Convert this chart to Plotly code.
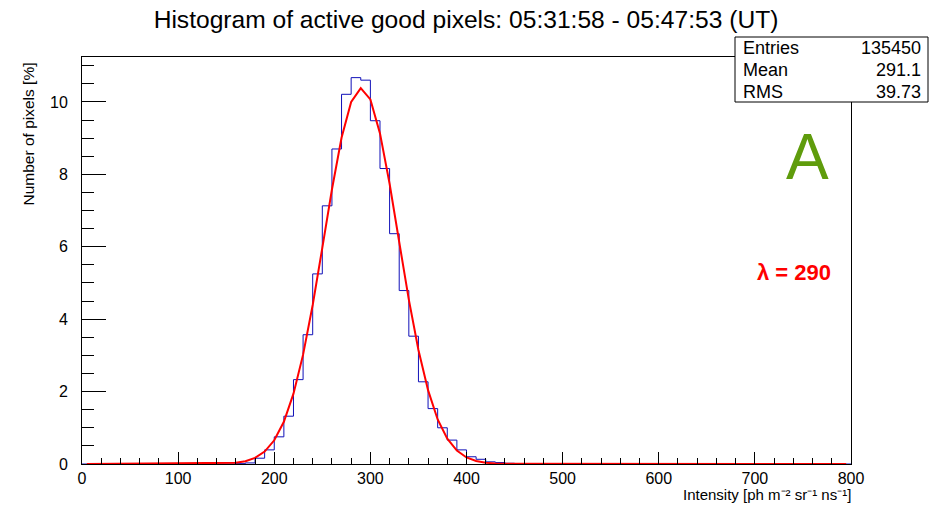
import plotly.graph_objects as go

# ---- data ----
bin_width = 10
bin_left = [160, 170, 180, 190, 200, 210, 220, 230, 240, 250, 260, 270, 280, 290, 300,
            310, 320, 330, 340, 350, 360, 370, 380, 390, 400, 410, 420, 430, 440, 450]
bin_pct = [0.01, 0.03, 0.16, 0.39, 0.75, 1.32, 2.33, 3.57, 5.25, 7.13, 8.70, 10.21, 10.67, 10.60, 9.48,
           8.16, 6.36, 4.79, 3.53, 2.27, 1.53, 1.00, 0.66, 0.39, 0.20, 0.13, 0.06, 0.04, 0.02, 0.01]

fit_x = [5, 150, 160, 170, 180, 190, 200, 210, 220, 230, 240, 250, 260, 270, 280, 290, 300,
         310, 320, 330, 340, 350, 360, 370, 380, 390, 400, 410, 420, 430, 440, 795]
fit_y = [0.0, 0.013, 0.033, 0.077, 0.169, 0.344, 0.655, 1.167, 1.942, 3.02, 4.39, 5.97, 7.58, 9.01, 10.00, 10.38, 10.07,
         9.13, 7.74, 6.13, 4.54, 3.15, 2.04, 1.23, 0.70, 0.37, 0.18, 0.083, 0.036, 0.015, 0.006, 0.0]

x_range = [0, 800]
y_range = [0, 11.24]

stats_labels = ["Entries", "Mean", "RMS"]
stats_values = ["135450", "291.1", "39.73"]

title_text = "Histogram of active good pixels: 05:31:58 - 05:47:53 (UT)"
x_title = "Intensity [ph m⁻² sr⁻¹ ns⁻¹]"
y_title = "Number of pixels [%]"

# ---- build full histogram over axis range ----
lookup = dict(zip(bin_left, bin_pct))
edges = list(range(x_range[0], x_range[1] + bin_width, bin_width))
hx, hy = [], []
for e in edges[:-1]:
    hx.append(e)
    hy.append(lookup.get(e, 0.0))
hx.append(edges[-1])
hy.append(hy[-1])

FONT = "Liberation Sans, Arial, Helvetica, sans-serif"

fig = go.Figure()
fig.add_trace(go.Scatter(x=hx, y=hy, mode="lines", line=dict(shape="hv", color="#1010b8", width=1),
                         hoverinfo="skip", showlegend=False))
fig.add_trace(go.Scatter(x=fit_x, y=fit_y, mode="lines", line=dict(color="#ff0000", width=2),
                         hoverinfo="skip", showlegend=False))

W, H = 933, 505
L, R, T, B = 82, 82, 57, 41
pw, ph = W - L - R, H - T - B

def px(xpix):
    return (xpix - L) / pw

def py(ypix):
    return (H - B - ypix) / ph

fig.update_layout(
    width=W, height=H,
    margin=dict(l=L, r=R, t=T, b=B),
    paper_bgcolor="white", plot_bgcolor="white",
    font=dict(family=FONT, color="black"),
    title=dict(text=title_text, x=px(466), xref="paper", xanchor="center",
               y=1 - 19 / H, yref="container", yanchor="middle",
               font=dict(size=24.6, family=FONT, color="black")),
    xaxis=dict(range=x_range, showgrid=False, zeroline=False,
               showline=True, linecolor="black", linewidth=1, mirror=True,
               ticks="inside", ticklen=12, tickcolor="black", tickwidth=1,
               tick0=0, dtick=100, tickfont=dict(size=16, family=FONT),
               minor=dict(ticks="inside", ticklen=6, dtick=20, tickcolor="black", tickwidth=1, showgrid=False)),
    yaxis=dict(range=y_range, showgrid=False, zeroline=False,
               showline=True, linecolor="black", linewidth=1, mirror=True,
               ticks="inside", ticklen=24, tickcolor="black", tickwidth=1,
               tick0=0, dtick=2, tickfont=dict(size=16, family=FONT), ticklabelstandoff=10,
               minor=dict(ticks="inside", ticklen=12, dtick=0.5, tickcolor="black", tickwidth=1, showgrid=False)),
)

# axis titles
fig.add_annotation(text=y_title, xref="paper", yref="paper", x=px(28), y=py(61),
                   xanchor="center", yanchor="top", textangle=-90, showarrow=False,
                   font=dict(size=15.5, family=FONT, color="black"))
fig.add_annotation(text=x_title, xref="paper", yref="paper", x=px(852), y=py(495),
                   xanchor="right", yanchor="middle", showarrow=False, borderpad=0,
                   font=dict(size=15, family=FONT, color="black"))

# stats box
fig.add_shape(type="rect", xref="paper", yref="paper", x0=px(735), x1=px(928), y0=py(102), y1=py(37),
              line=dict(color="black", width=1), fillcolor="white", layer="above")
row_y = [48, 70, 92]
for lab, val, yy in zip(stats_labels, stats_values, row_y):
    fig.add_annotation(text=lab, xref="paper", yref="paper", x=px(741), y=py(yy),
                       xanchor="left", yanchor="middle", showarrow=False,
                       font=dict(size=18, family=FONT, color="black"))
    fig.add_annotation(text=val, xref="paper", yref="paper", x=px(923), y=py(yy),
                       xanchor="right", yanchor="middle", showarrow=False,
                       font=dict(size=18, family=FONT, color="black"))

# big letter and lambda label
fig.add_annotation(text="A", xref="paper", yref="paper", x=px(807), y=py(157),
                   xanchor="center", yanchor="middle", showarrow=False,
                   font=dict(size=64, family=FONT, color="#5f9c0c"))
fig.add_annotation(text="<b>λ = 290</b>", xref="paper", yref="paper", x=px(794), y=py(272),
                   xanchor="center", yanchor="middle", showarrow=False,
                   font=dict(size=22, family=FONT, color="#ff0000"))

fig.write_html("out.html")
